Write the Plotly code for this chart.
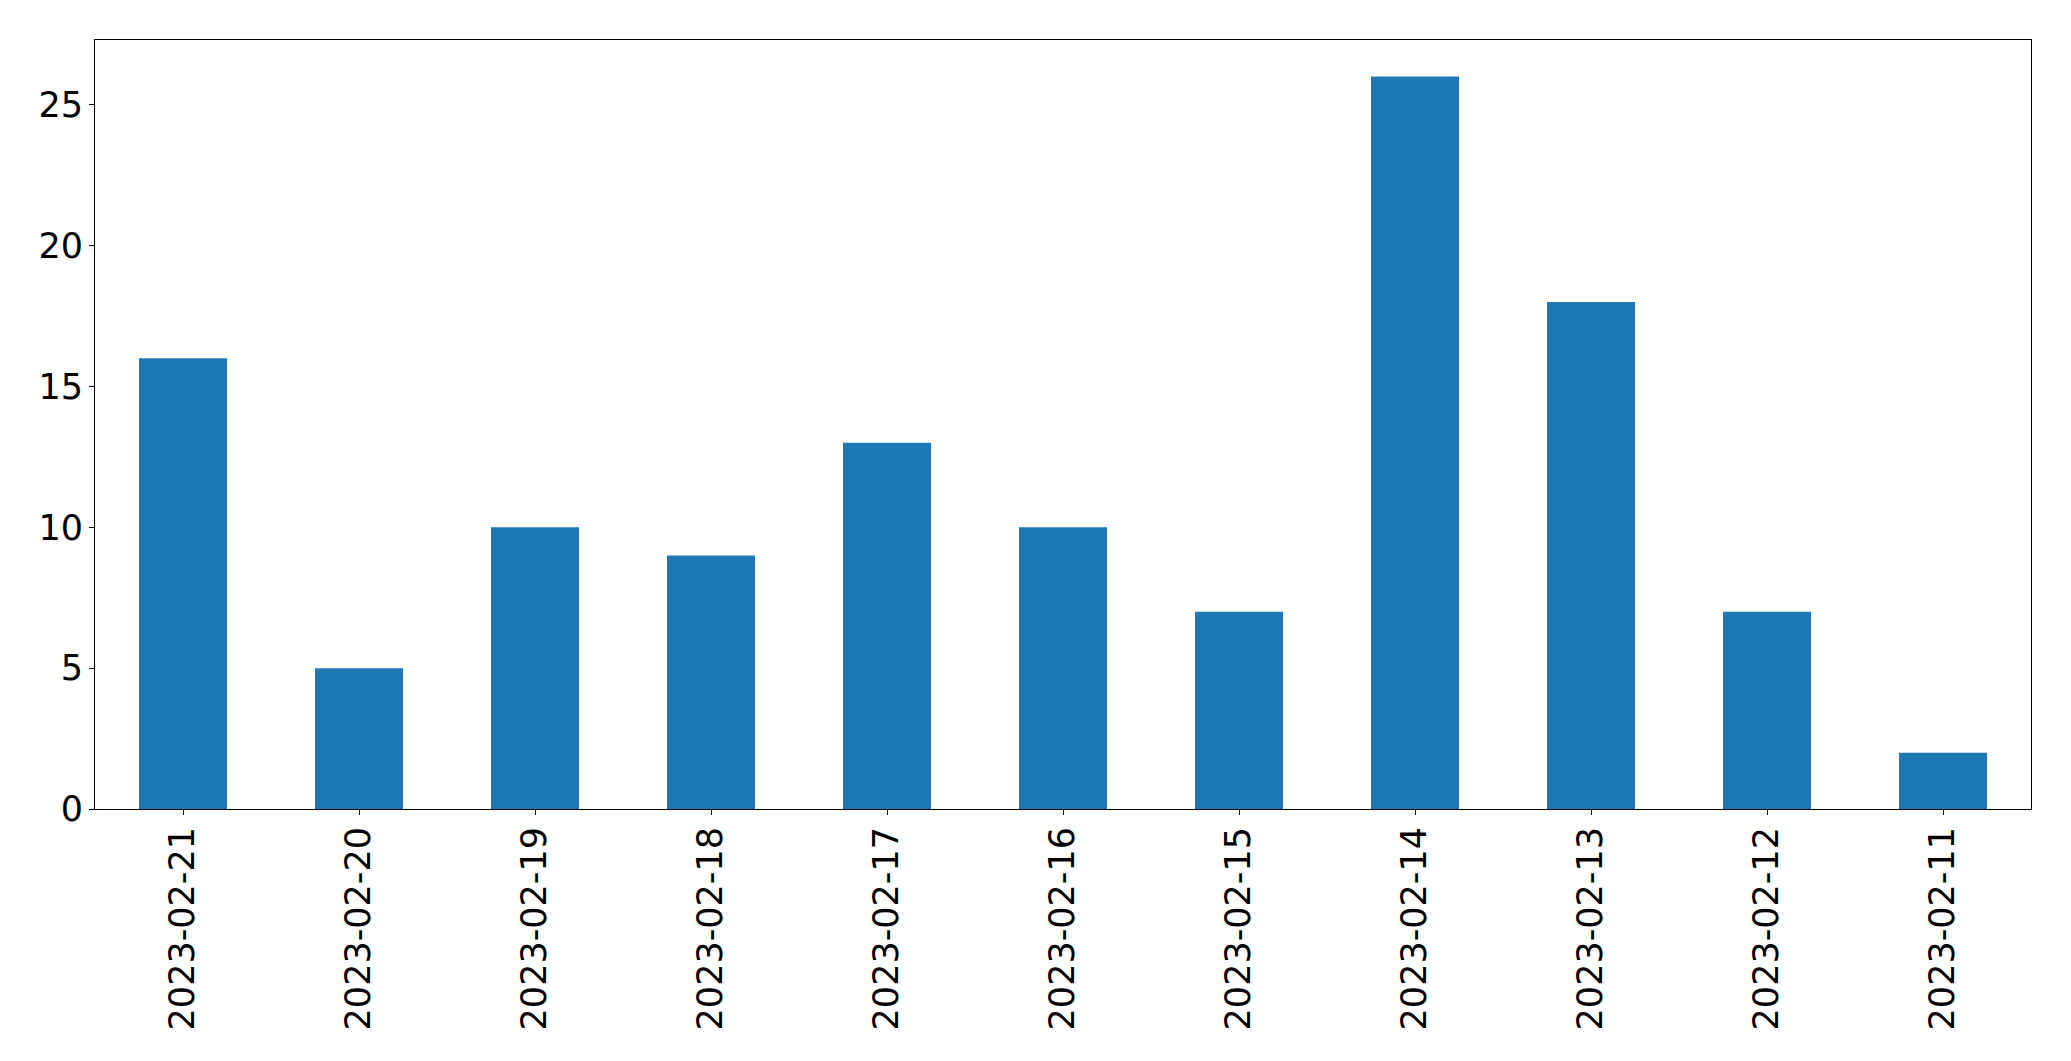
import plotly.graph_objects as go

dates = ["2023-02-21", "2023-02-20", "2023-02-19", "2023-02-18", "2023-02-17",
         "2023-02-16", "2023-02-15", "2023-02-14", "2023-02-13", "2023-02-12", "2023-02-11"]
counts = [16, 5, 10, 9, 13, 10, 7, 26, 18, 7, 2]
y_ticks = [0, 5, 10, 15, 20, 25]

fig = go.Figure(go.Bar(x=dates, y=counts, marker=dict(color="#1f77b4", line=dict(width=0)), width=0.5))

axis_common = dict(
    showline=True, linecolor="black", linewidth=1, mirror=True,
    ticks="outside", ticklen=5, tickwidth=1, tickcolor="black",
    showgrid=False, zeroline=False, automargin=False,
    tickfont=dict(family="DejaVu Sans", size=35, color="black"),
)

# page body has an 8px default margin, so the figure is sized/offset to compensate
fig.update_layout(
    width=2063, height=1053,
    margin=dict(l=87, r=40, t=32, b=252),
    plot_bgcolor="white", paper_bgcolor="white",
    showlegend=False,
    xaxis=dict(type="category", tickangle=-90, range=[-0.5, len(dates) - 0.5],
               ticklabelstandoff=-2, **axis_common),
    yaxis=dict(range=[0, max(counts) * 1.05], tickvals=y_ticks,
               ticklabelstandoff=-1, **axis_common),
)

fig.write_html("out.html")
